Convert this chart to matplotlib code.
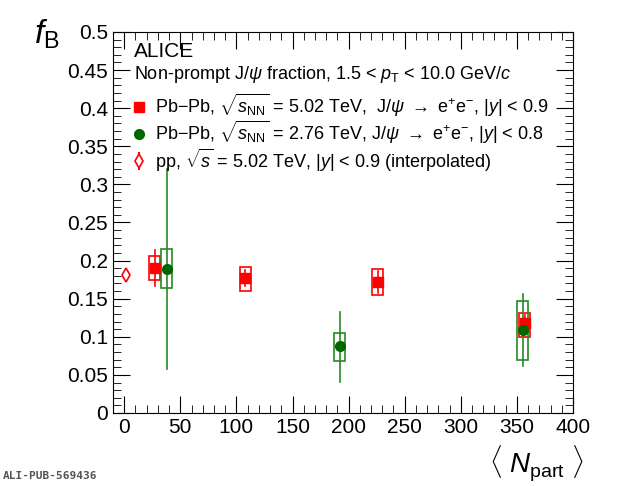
import matplotlib
matplotlib.use("Agg")
import matplotlib.pyplot as plt
from matplotlib.patches import Rectangle
from matplotlib.ticker import MultipleLocator

plt.rcParams['font.family'] = ['Liberation Sans', 'DejaVu Sans']
plt.rcParams['mathtext.fontset'] = 'custom'
plt.rcParams['mathtext.rm'] = 'Liberation Sans'
plt.rcParams['mathtext.it'] = 'Liberation Sans:italic'

# Pb-Pb 5.02 TeV
pb5_x = [27, 108, 226, 357]
pb5_y = [0.190, 0.177, 0.172, 0.118]
pb5_stat_lo = [0.167, 0.167, 0.157, 0.105]
pb5_stat_hi = [0.214, 0.188, 0.186, 0.128]
pb5_sys_lo = [0.175, 0.160, 0.155, 0.100]
pb5_sys_hi = [0.206, 0.192, 0.189, 0.131]
# Pb-Pb 2.76 TeV
pb2_x = [38, 192, 355]
pb2_y = [0.189, 0.088, 0.109]
pb2_stat_lo = [0.058, 0.041, 0.062]
pb2_stat_hi = [0.320, 0.133, 0.156]
pb2_sys_lo = [0.164, 0.068, 0.070]
pb2_sys_hi = [0.215, 0.105, 0.147]
# pp
pp_x = [2]
pp_y = [0.181]
pp_err = [0.004]

fig = plt.figure(figsize=(6.2, 4.86), dpi=100)
ax = fig.add_axes([113/620, 1-413/486, 460/620, 381/486])
ax.set_xlim(-10, 400)
ax.set_ylim(0, 0.5)

red = '#ff0000'
green = '#006600'
bw = 10
for x, y, slo, shi, ylo, yhi in zip(pb5_x, pb5_y, pb5_stat_lo, pb5_stat_hi, pb5_sys_lo, pb5_sys_hi):
    ax.add_patch(Rectangle((x-bw/2, ylo), bw, yhi-ylo, fill=False, ec=red, lw=1.2, zorder=3))
    ax.plot([x, x], [slo, shi], color=red, lw=1.2, zorder=3)
for x, y, slo, shi, ylo, yhi in zip(pb2_x, pb2_y, pb2_stat_lo, pb2_stat_hi, pb2_sys_lo, pb2_sys_hi):
    ax.add_patch(Rectangle((x-bw/2, ylo), bw, yhi-ylo, fill=False, ec='#228B22', lw=1.2, zorder=3))
    ax.plot([x, x], [slo, shi], color='#228B22', lw=1.2, zorder=3)
ax.plot(pb5_x, pb5_y, 's', color=red, ms=7, ls='none', zorder=4,
        label=r'Pb$-$Pb, $\sqrt{s_{\rm NN}}$ = 5.02 TeV,  J/$\psi$ $\rightarrow$ e$^{+}$e$^{-}$, |$y$| < 0.9')
ax.plot(pb2_x, pb2_y, 'o', color=green, ms=7, ls='none', zorder=4,
        label=r'Pb$-$Pb, $\sqrt{s_{\rm NN}}$ = 2.76 TeV, J/$\psi$ $\rightarrow$ e$^{+}$e$^{-}$, |$y$| < 0.8')
ax.errorbar(pp_x, pp_y, yerr=pp_err, fmt='d', mfc='white', mec=red, ecolor=red, ms=7, mew=1.2,
            zorder=4, label=r'pp, $\sqrt{s}$ = 5.02 TeV, |$y$| < 0.9 (interpolated)')

ax.xaxis.set_major_locator(MultipleLocator(50))
ax.xaxis.set_minor_locator(MultipleLocator(10))
ax.yaxis.set_minor_locator(MultipleLocator(0.01))
ax.set_yticks([0, 0.05, 0.1, 0.15, 0.2, 0.25, 0.3, 0.35, 0.4, 0.45, 0.5])
ax.set_yticklabels(['0', '0.05', '0.1', '0.15', '0.2', '0.25', '0.3', '0.35', '0.4', '0.45', '0.5'])
ax.tick_params(which='both', direction='in', top=True, right=True, labelsize=15)
ax.tick_params(which='major', length=12)
ax.tick_params(which='minor', length=6)

fig.text(0.075, 0.93, r'$f_{\rm B}$', fontsize=24, ha='center', va='center')
fig.text(0.865, 0.045, r'$\langle\ N_{\rm part}\ \rangle$', fontsize=20, ha='center', va='center')
fig.text(0.005, 0.015, 'ALI-PUB-569436', fontsize=8, family='DejaVu Sans Mono', fontweight='bold', color='#555555')

ax.text(0.045, 0.975, 'ALICE', transform=ax.transAxes, fontsize=15, va='top')
ax.text(0.045, 0.915, r'Non-prompt J/$\psi$ fraction, 1.5 < $p_{\rm T}$ < 10.0 GeV/$c$',
        transform=ax.transAxes, fontsize=13, va='top')
ax.legend(loc='upper left', bbox_to_anchor=(0.0, 0.875), frameon=False, fontsize=13,
          handletextpad=0.1, borderpad=0.2, labelspacing=0.0, handlelength=1.5, numpoints=1)

fig.savefig('out.png', dpi=100)
